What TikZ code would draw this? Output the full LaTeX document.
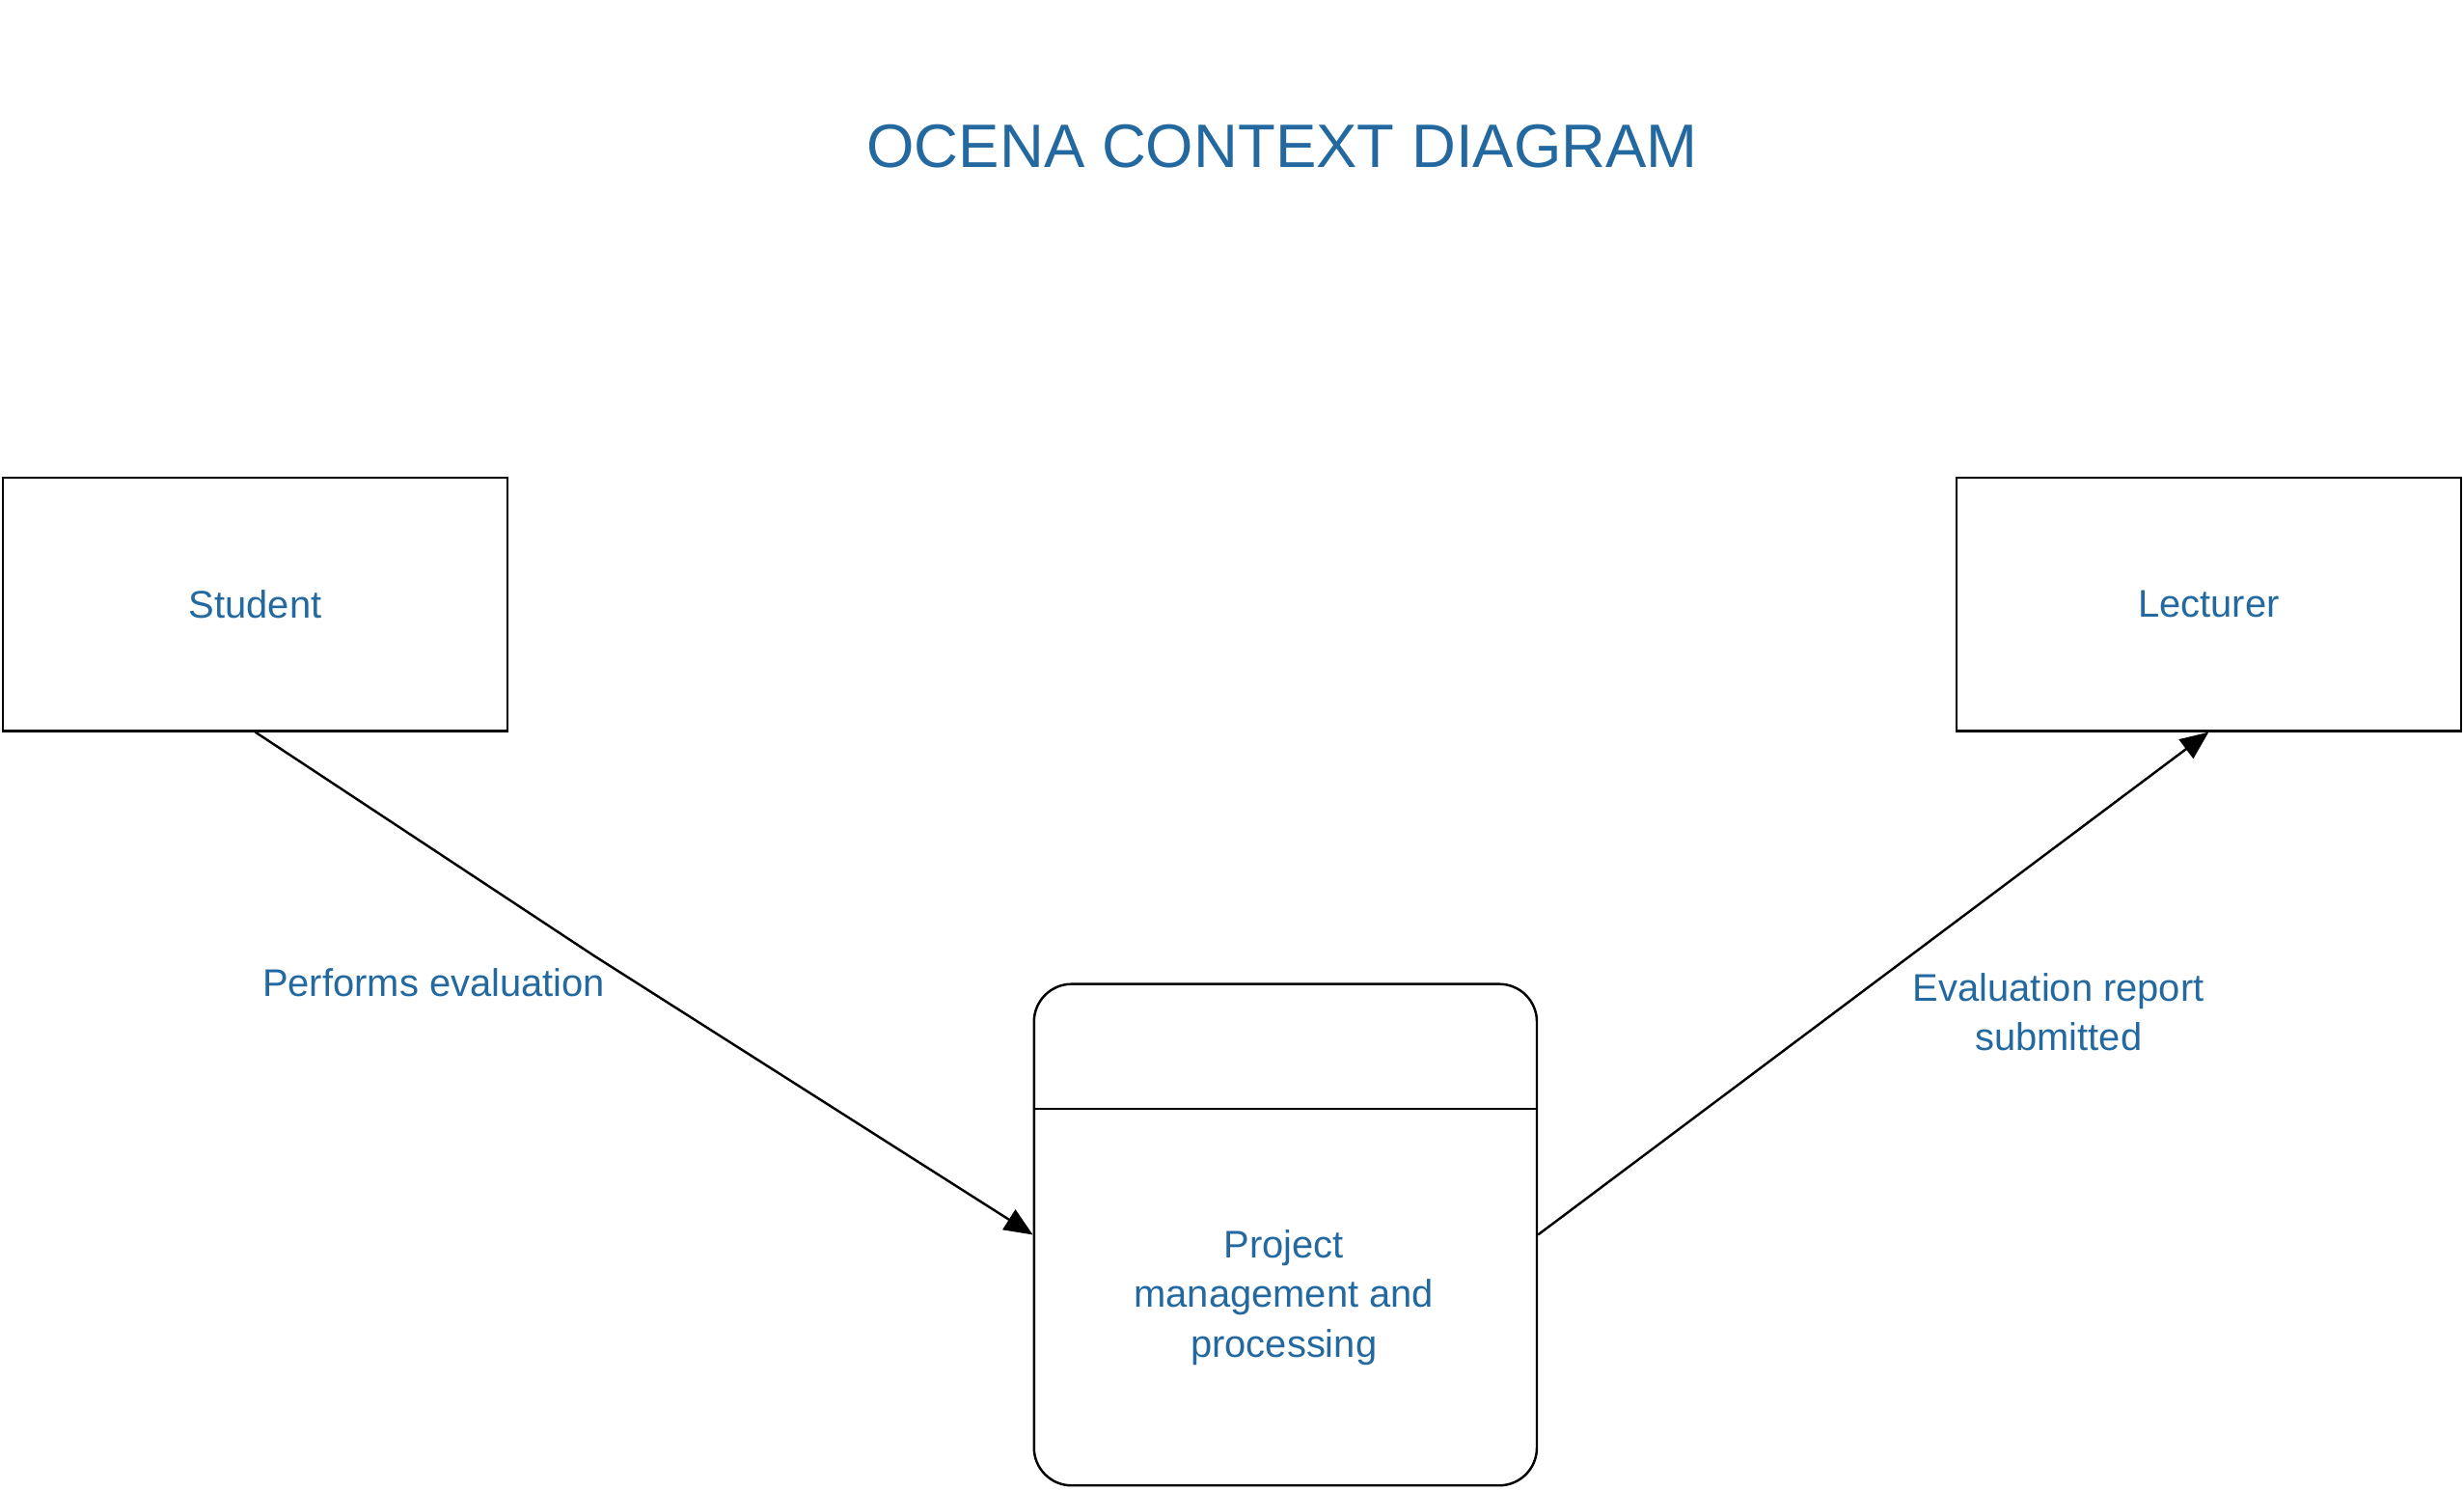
\documentclass[tikz,border=0pt]{standalone}
\usepackage{fontspec}
\setmainfont{Liberation Sans}
\usetikzlibrary{positioning, arrows.meta}
\definecolor{textblue}{HTML}{23699F}
\tikzstyle{entity} = [rectangle, minimum width=321pt, minimum height=161pt, draw=black, line width=1.5pt, text=textblue, font=\fontsize{24.5}{31.5}\selectfont]
\tikzstyle{process} = [rectangle, rounded corners=24pt, minimum width=320pt, minimum height=319pt, draw=black, line width=1.5pt]
\tikzstyle{flowtext} = [text=textblue, align=center, font=\fontsize{24.5}{31.5}\selectfont]
\tikzstyle{titletext} = [text=textblue, font=\fontsize{39}{47}\selectfont]
\tikzstyle{arrow} = [line width=1.5pt, -{Triangle[length=18pt, width=15pt]}]

\begin{document}
\begin{tikzpicture}[x=1pt, y=-1pt]
    \useasboundingbox (0,0) rectangle (1568,948);

    \node (title) [titletext] at (816,93) {OCENA CONTEXT DIAGRAM};

    \node (ent1) [entity] at (162.5,384.5) {Student};
    \node (ent2) [entity] at (1405.5,384.5) {Lecturer};
    \node (proc1) [process] at (818,785.5) {};
    \draw [line width=1.5pt] ([yshift=-80pt]proc1.north west)--([yshift=-80pt]proc1.north east);
    \node (proctext) [flowtext] at (817,825.5) {Project\\management and\\processing};

    \coordinate (bend1) at (378,608);
    \draw[arrow] (ent1.south)--(bend1)--(proc1.west);
    \draw[arrow] (proc1.east)--(ent2.south);

    \node (lab1) [flowtext] at (276,625) {Performs evaluation};
    \node (lab2) [flowtext] at (1310,644) {Evaluation report\\submitted};
%    \draw [black] ([yshift=0.2cm]proc1.west)--([yshift=0.2cm]proc1.east);

\end{tikzpicture}
\end{document}
